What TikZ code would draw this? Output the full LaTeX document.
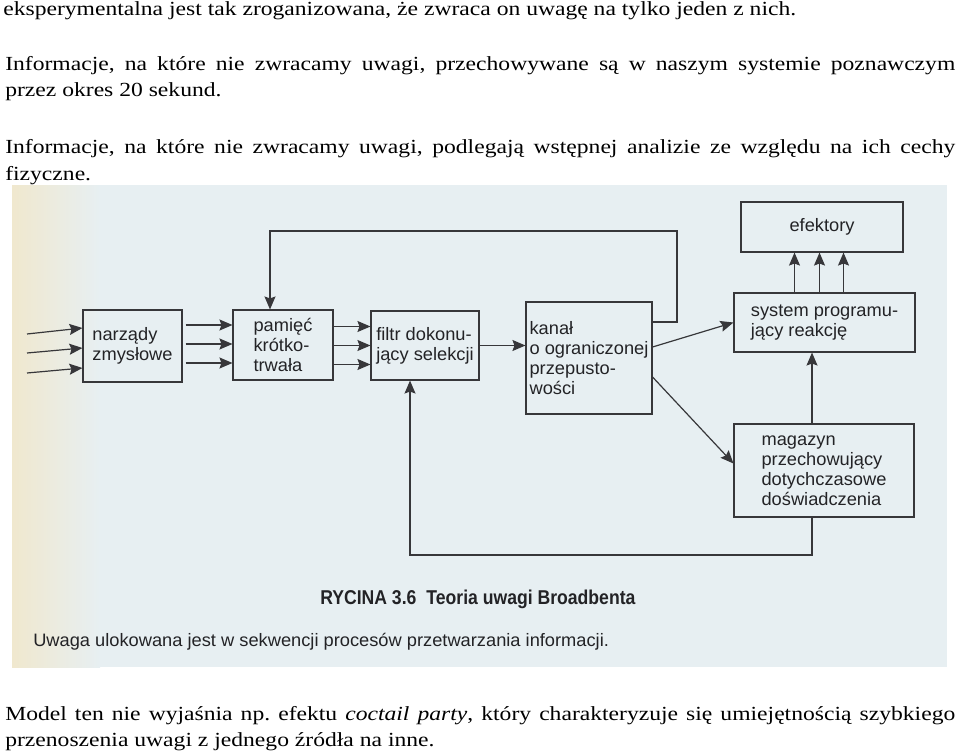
\documentclass[tikz,border=0pt]{standalone}
\usepackage{fontspec}
\usepackage{tikz}
\usetikzlibrary{arrows.meta,positioning}
\newfontfamily\tekstfont{Liberation Serif}[FakeStretch=1.18]
\newfontfamily\rycfont{Liberation Sans}[FakeStretch=1.015]
\newfontfamily\podpisfont{Liberation Sans}[FakeStretch=0.88]
\definecolor{skan}{RGB}{231,239,242}
\definecolor{skanzolty}{RGB}{240,232,206}
\definecolor{kreska}{RGB}{55,55,58}
\definecolor{druk}{RGB}{35,35,38}

\begin{document}
\begin{tikzpicture}[x=1pt,y=-1pt,>={Stealth[length=13pt,width=11pt,inset=2pt]},semithick]
\tikzstyle{blok}=[draw=kreska,line width=1.1pt,text=druk,font=\rycfont\fontsize{18}{20}\selectfont,align=left,inner sep=0pt]
\tikzstyle{strz}=[->,draw=kreska,line width=1.2pt]
\tikzstyle{wiersz}=[anchor=base west,inner sep=0pt,font=\tekstfont\fontsize{20}{26}\selectfont\frenchspacing]
\useasboundingbox (0,0) rectangle (960,754);

% Tekst nad rysunkiem
\node[wiersz] (w1) at (3,16) {eksperymentalna jest tak zroganizowana, że zwraca on uwagę na tylko jeden z nich.};
\node[wiersz] (w2) at (5,71) {\makebox[950pt][s]{Informacje, na które nie zwracamy uwagi, przechowywane są w naszym systemie poznawczym}};
\node[wiersz] (w3) at (5,97) {przez okres 20 sekund.};
\node[wiersz] (w4) at (5,154) {\makebox[950pt][s]{Informacje, na które nie zwracamy uwagi, podlegają wstępnej analizie ze względu na ich cechy}};
\node[wiersz] (w5) at (5,180) {fizyczne.};

% Tlo skanu
\fill[skan] (12,185) rectangle (947,667);
\shade[left color=skanzolty,right color=skan] (12,185) rectangle (100,667);

% Bloki
\node[blok,minimum width=99pt,minimum height=72pt] (narzady) at (132.5,346) {narządy\\zmysłowe};
\node[blok,minimum width=100pt,minimum height=70pt] (pamiec) at (283,345) {pamięć\\krótko-\\trwała};
\node[blok,minimum width=108pt,minimum height=69pt] (filtr) at (425,345.5) {filtr dokonu-\\jący selekcji};
\node[blok,minimum width=126pt,minimum height=112pt] (kanal) at (589,358) {kanał\\o ograniczonej\\przepusto-\\wości};
\node[blok,minimum width=162pt,minimum height=50pt] (efektory) at (822,227) {efektory};
\node[blok,minimum width=181pt,minimum height=59pt] (system) at (824.5,322.5) {system programu-\\jący reakcję};
\node[blok,minimum width=180pt,minimum height=93pt] (magazyn) at (824,470.5) {magazyn\\przechowujący\\dotychczasowe\\doświadczenia};

% Wejscia do narzadow zmyslow
\foreach \i/\ya/\d in {1/334/18,2/353/-2,3/373/-22}{
  \coordinate (we\i) at (27,\ya);
  \draw[strz] (we\i) -- ([yshift=\d pt]narzady.west);
}

% Polaczenia miedzy blokami
\foreach \d in {20,1,-18}
  \draw[strz,shorten <=3pt] ([yshift=\d pt]pamiec.west -| narzady.east) -- ([yshift=\d pt]pamiec.west);
\foreach \d in {19,0,-19}
  \draw[strz] ([yshift=\d pt]filtr.west -| pamiec.east) -- ([yshift=\d pt]filtr.west);
\draw[strz] (filtr.east) -- (filtr.east -| kanal.west);
\draw[strz] ([yshift=11pt]kanal.east) -- (system.west);
\draw[strz] ([yshift=-19pt]kanal.east) -- ([yshift=7pt]magazyn.west);
\foreach \d in {-30,-5,19}
  \draw[strz] ([xshift=\d pt]system.north) -- ([xshift=\d pt]system.north |- efektory.south);
\draw[strz] ([xshift=-12pt]magazyn.north) -- ([xshift=-12pt]magazyn.north |- system.south);

% Petle zwrotne
\coordinate (petlaG) at (677,231);
\coordinate (petlaD) at (812,555);
\draw[strz] ([yshift=36pt]kanal.east) -| (petlaG) -| ([xshift=-13pt]pamiec.north);
\draw[strz] ([xshift=-12pt]magazyn.south) -- (petlaD) -| ([xshift=-15pt]filtr.south);

% Podpis ryciny
\node[anchor=base west,inner sep=0pt,text=druk,font=\podpisfont\bfseries\fontsize{20}{24}\selectfont] (tytul) at (320,604) {RYCINA 3.6\enspace Teoria uwagi Broadbenta};
\node[anchor=base west,inner sep=0pt,text=druk,font=\rycfont\fontsize{18}{20}\selectfont] (opis) at (33,646) {Uwaga ulokowana jest w sekwencji procesów przetwarzania informacji.};

% Tekst pod rysunkiem
\node[wiersz] (w6) at (5,720) {\makebox[950pt][s]{Model ten nie wyjaśnia np. efektu \textit{coctail party}, który charakteryzuje się umiejętnością szybkiego}};
\node[wiersz] (w7) at (5,746) {przenoszenia uwagi z jednego źródła na inne.};
\end{tikzpicture}
\end{document}
